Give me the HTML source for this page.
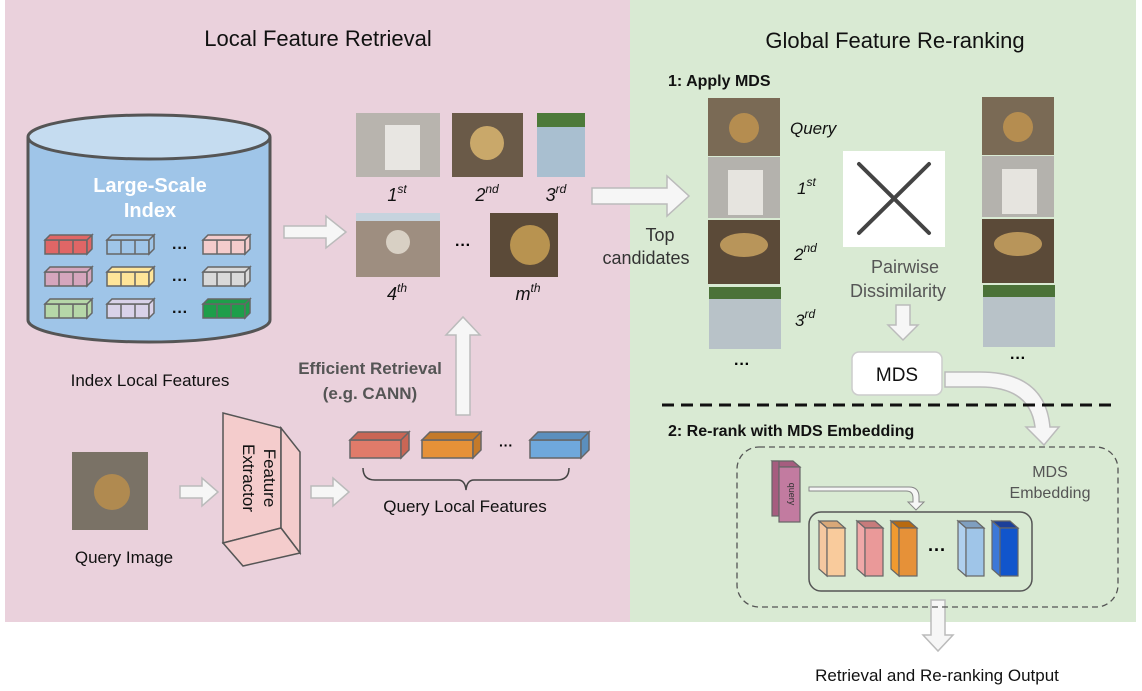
<!DOCTYPE html>
<html><head><meta charset="utf-8"><style>
html,body{margin:0;padding:0;background:#fff;}
svg{display:block;font-family:"Liberation Sans",sans-serif;}
</style></head><body>
<svg width="1142" height="691" viewBox="0 0 1142 691" xmlns="http://www.w3.org/2000/svg">
<rect x="5" y="0" width="625" height="622" fill="#ead1dc"/>
<rect x="630" y="0" width="506" height="622" fill="#d9ead3"/>
<text x="318" y="46" font-size="22" text-anchor="middle" fill="#111">Local Feature Retrieval</text>
<text x="895" y="48" font-size="22" text-anchor="middle" fill="#111">Global Feature Re-ranking</text>

<!-- cylinder -->
<path d="M28,137 L28,320 A121,22 0 0 0 270,320 L270,137" fill="#9fc5e8" stroke="#555" stroke-width="3"/>
<ellipse cx="149" cy="137" rx="121" ry="22" fill="#c5dcf0" stroke="#555" stroke-width="3"/>
<text x="150" y="192" font-size="20" font-weight="bold" fill="#fff" text-anchor="middle">Large-Scale</text>
<text x="150" y="217" font-size="20" font-weight="bold" fill="#fff" text-anchor="middle">Index</text>
<g stroke="#666" stroke-width="1.5">
<g fill="#e06666"><rect x="45" y="240" width="42" height="14"/><path d="M45,240 l5,-5 h42 l-5,5z M87,240 l5,-5 v14 l-5,5z"/></g>
<g fill="#9fc5e8"><rect x="107" y="240" width="42" height="14"/><path d="M107,240 l5,-5 h42 l-5,5z M149,240 l5,-5 v14 l-5,5z"/></g>
<g fill="#f4cccc"><rect x="203" y="240" width="42" height="14"/><path d="M203,240 l5,-5 h42 l-5,5z M245,240 l5,-5 v14 l-5,5z"/></g>
<g fill="#d5a6bd"><rect x="45" y="272" width="42" height="14"/><path d="M45,272 l5,-5 h42 l-5,5z M87,272 l5,-5 v14 l-5,5z"/></g>
<g fill="#ffe599"><rect x="107" y="272" width="42" height="14"/><path d="M107,272 l5,-5 h42 l-5,5z M149,272 l5,-5 v14 l-5,5z"/></g>
<g fill="#d9d9d9"><rect x="203" y="272" width="42" height="14"/><path d="M203,272 l5,-5 h42 l-5,5z M245,272 l5,-5 v14 l-5,5z"/></g>
<g fill="#b6d7a8"><rect x="45" y="304" width="42" height="14"/><path d="M45,304 l5,-5 h42 l-5,5z M87,304 l5,-5 v14 l-5,5z"/></g>
<g fill="#d9d2e9"><rect x="107" y="304" width="42" height="14"/><path d="M107,304 l5,-5 h42 l-5,5z M149,304 l5,-5 v14 l-5,5z"/></g>
<g fill="#1e9e4a"><rect x="203" y="304" width="42" height="14"/><path d="M203,304 l5,-5 h42 l-5,5z M245,304 l5,-5 v14 l-5,5z"/></g>
<path fill="none" d="M59,240 v14 M73,240 v14 M121,240 v14 M135,240 v14 M217,240 v14 M231,240 v14 M59,272 v14 M73,272 v14 M121,272 v14 M135,272 v14 M217,272 v14 M231,272 v14 M59,304 v14 M73,304 v14 M121,304 v14 M135,304 v14 M217,304 v14 M231,304 v14"/>
</g>
<g font-size="16" font-weight="bold" fill="#111" text-anchor="middle"><text x="180" y="253">···</text><text x="180" y="285">···</text><text x="180" y="317">···</text></g>
<text x="150" y="386" font-size="17" text-anchor="middle" fill="#111">Index Local Features</text>

<g fill="#f6f6f6" stroke="#bbb" stroke-width="1.5">
<path d="M284,226 h42 v-10 l20,16 l-20,16 v-10 h-42z"/>
<path d="M592,188 h75 v-12 l22,20 l-22,20 v-12 h-75z"/>
<path d="M456,415 v-80 h-10 l17,-18 l17,18 h-10 v80z"/>
<path d="M180,486 h22 v-8 l16,14 l-16,14 v-8 h-22z"/>
<path d="M311,486 h22 v-8 l16,14 l-16,14 v-8 h-22z"/>
<path d="M896,305 h14 v20 h8 l-15,15 l-15,-15 h8z"/>
<path d="M931,600 h14 v35 h8 l-15,16 l-15,-16 h8z"/>
<path d="M945,372 h35 q65,0 70,55 h9 l-15,18 l-18,-18 h9 q-5,-40 -55,-40 h-35z"/>
</g>

<rect x="356" y="113" width="84" height="64" fill="#b8b4ae"/><rect x="385" y="125" width="35" height="45" fill="#e8e6e2"/>
<rect x="452" y="113" width="71" height="64" fill="#6a5a48"/><circle cx="487" cy="143" r="17" fill="#c9a86a"/>
<rect x="537" y="113" width="48" height="64" fill="#a9bfd0"/><rect x="537" y="113" width="48" height="14" fill="#4d7a3a"/>
<rect x="356" y="213" width="84" height="64" fill="#9e8e80"/><circle cx="398" cy="242" r="12" fill="#d8d0c4"/><rect x="356" y="213" width="84" height="8" fill="#c6d3de"/>
<rect x="490" y="213" width="68" height="64" fill="#5b4a38"/><circle cx="530" cy="245" r="20" fill="#b89350"/>
<g font-size="18" font-style="italic" fill="#111" text-anchor="middle">
<text x="397" y="201">1<tspan font-size="12" dy="-8">st</tspan></text>
<text x="487" y="201">2<tspan font-size="12" dy="-8">nd</tspan></text>
<text x="556" y="201">3<tspan font-size="12" dy="-8">rd</tspan></text>
<text x="397" y="300">4<tspan font-size="12" dy="-8">th</tspan></text>
<text x="528" y="300">m<tspan font-size="12" dy="-8">th</tspan></text>
</g>
<text x="463" y="250" font-size="16" font-weight="bold" text-anchor="middle">···</text>
<text x="660" y="241" font-size="18" text-anchor="middle" fill="#333">Top</text>
<text x="646" y="264" font-size="18" text-anchor="middle" fill="#333">candidates</text>
<text x="370" y="374" font-size="17" font-weight="bold" text-anchor="middle" fill="#555">Efficient Retrieval</text>
<text x="370" y="399" font-size="17" font-weight="bold" text-anchor="middle" fill="#555">(e.g. CANN)</text>

<rect x="72" y="452" width="76" height="78" fill="#7a7266"/><circle cx="112" cy="492" r="18" fill="#b08a50"/>
<text x="124" y="563" font-size="17" text-anchor="middle" fill="#111">Query Image</text>

<g stroke="#555" stroke-width="1.5" fill="#f4cccc">
<path d="M223,413 L281,428 L281,528 L223,543z"/>
<path d="M281,428 L300,452 L300,553 L281,528z"/>
<path d="M223,543 L281,528 L300,553 L243,566z"/>
</g>
<text transform="translate(262,478) rotate(90)" font-size="17" text-anchor="middle" fill="#111"><tspan x="0" dy="-2">Feature</tspan><tspan x="0" dy="21">Extractor</tspan></text>

<g stroke="#666" stroke-width="1.5">
<g fill="#e07b6a"><rect x="350" y="440" width="51" height="18"/><path d="M350,440 l8,-8 h51 l-8,8z M401,440 l8,-8 v18 l-8,8z" fill="#c96655"/></g>
<g fill="#e69138"><rect x="422" y="440" width="51" height="18"/><path d="M422,440 l8,-8 h51 l-8,8z M473,440 l8,-8 v18 l-8,8z" fill="#c47a2a"/></g>
<g fill="#6fa8dc"><rect x="530" y="440" width="51" height="18"/><path d="M530,440 l8,-8 h51 l-8,8z M581,440 l8,-8 v18 l-8,8z" fill="#5b8fbd"/></g>
</g>
<text x="506" y="450" font-size="14" font-weight="bold" text-anchor="middle">···</text>
<path d="M363,468 q0,12 12,12 h83 q7,0 8,10 q1,-10 8,-10 h83 q12,0 12,-12" fill="none" stroke="#444" stroke-width="1.5"/>
<text x="465" y="512" font-size="17" text-anchor="middle" fill="#111">Query Local Features</text>

<text x="668" y="86" font-size="16" font-weight="bold" fill="#111">1: Apply MDS</text>
<g>
<rect x="708" y="98" width="72" height="58" fill="#7a6a55"/><circle cx="744" cy="128" r="15" fill="#b58d50"/>
<rect x="708" y="157" width="72" height="61" fill="#b4b2ad"/><rect x="728" y="170" width="35" height="45" fill="#e6e4df"/>
<rect x="708" y="220" width="72" height="64" fill="#5b4a38"/><ellipse cx="744" cy="245" rx="24" ry="12" fill="#b8955a"/>
<rect x="709" y="287" width="72" height="62" fill="#b8c2c8"/><rect x="709" y="287" width="72" height="12" fill="#4b7238"/>
<rect x="982" y="97" width="72" height="58" fill="#7a6a55"/><circle cx="1018" cy="127" r="15" fill="#b58d50"/>
<rect x="982" y="156" width="72" height="61" fill="#b4b2ad"/><rect x="1002" y="169" width="35" height="45" fill="#e6e4df"/>
<rect x="982" y="219" width="72" height="64" fill="#5b4a38"/><ellipse cx="1018" cy="244" rx="24" ry="12" fill="#b8955a"/>
<rect x="983" y="285" width="72" height="62" fill="#b8c2c8"/><rect x="983" y="285" width="72" height="12" fill="#4b7238"/>
</g>
<text x="742" y="369" font-size="16" font-weight="bold" text-anchor="middle">···</text>
<text x="1018" y="363" font-size="16" font-weight="bold" text-anchor="middle">···</text>
<g font-size="17" font-style="italic" fill="#111">
<text x="790" y="134">Query</text>
<text x="797" y="194">1<tspan font-size="12" dy="-8">st</tspan></text>
<text x="794" y="260">2<tspan font-size="12" dy="-8">nd</tspan></text>
<text x="795" y="326">3<tspan font-size="12" dy="-8">rd</tspan></text>
</g>
<rect x="843" y="151" width="102" height="96" fill="#fff"/>
<path d="M859,164 L929,233 M929,164 L859,233" stroke="#444" stroke-width="4" stroke-linecap="round"/>
<text x="905" y="273" font-size="18" text-anchor="middle" fill="#555">Pairwise</text>
<text x="898" y="297" font-size="18" text-anchor="middle" fill="#555">Dissimilarity</text>
<rect x="852" y="352" width="90" height="43" rx="7" fill="#fff" stroke="#ccc" stroke-width="1.5"/>
<text x="897" y="381" font-size="19" text-anchor="middle" fill="#111">MDS</text>
<line x1="662" y1="405" x2="1112" y2="405" stroke="#111" stroke-width="3" stroke-dasharray="12,7"/>
<text x="668" y="436" font-size="16" font-weight="bold" fill="#111">2: Re-rank with MDS Embedding</text>
<rect x="737" y="447" width="381" height="160" rx="22" fill="none" stroke="#555" stroke-width="1.3" stroke-dasharray="6,4"/>
<text x="1050" y="477" font-size="16" text-anchor="middle" fill="#555">MDS</text>
<text x="1050" y="498" font-size="16" text-anchor="middle" fill="#555">Embedding</text>
<g stroke="#666" stroke-width="1.2">
<path d="M772,461 l7,6 h21 l-7,-6z" fill="#a65d7f"/>
<rect x="772" y="461" width="7" height="55" fill="#a65d7f"/>
<rect x="779" y="467" width="21" height="55" fill="#c27ba0"/>
</g>
<text transform="translate(789,494) rotate(90)" font-size="9" text-anchor="middle" fill="#333">query</text>
<path d="M809,487 h100 q10,0 10,10 v5 h5 l-8,8 l-8,-8 h5 v-4 q0,-7 -7,-7 h-97z" fill="#f6f6f6" stroke="#888" stroke-width="1"/>
<rect x="809" y="512" width="223" height="79" rx="12" fill="none" stroke="#555" stroke-width="1.5"/>
<g stroke="#666" stroke-width="1.2">
<path d="M819,521 l8,7 h18 l-8,-7z" fill="#d9a878"/><path d="M819,521 v48 l8,7 v-48z" fill="#f5c8a0"/><rect x="827" y="528" width="18" height="48" fill="#f9cb9c"/>
<path d="M857,521 l8,7 h18 l-8,-7z" fill="#c77b7b"/><path d="M857,521 v48 l8,7 v-48z" fill="#f0a8a8"/><rect x="865" y="528" width="18" height="48" fill="#ea9999"/>
<path d="M891,521 l8,7 h18 l-8,-7z" fill="#b86a10"/><path d="M891,521 v48 l8,7 v-48z" fill="#f09a30"/><rect x="899" y="528" width="18" height="48" fill="#e69138"/>
<path d="M958,521 l8,7 h18 l-8,-7z" fill="#7f9fc0"/><path d="M958,521 v48 l8,7 v-48z" fill="#b0d0ee"/><rect x="966" y="528" width="18" height="48" fill="#9fc5e8"/>
<path d="M992,521 l8,7 h18 l-8,-7z" fill="#1c3f99"/><path d="M992,521 v48 l8,7 v-48z" fill="#3c78d8"/><rect x="1000" y="528" width="18" height="48" fill="#1155cc"/>
</g>
<text x="937" y="556" font-size="18" font-weight="bold" text-anchor="middle">···</text>
<text x="937" y="681" font-size="17" text-anchor="middle" fill="#111">Retrieval and Re-ranking Output</text>
</svg>
</body></html>
